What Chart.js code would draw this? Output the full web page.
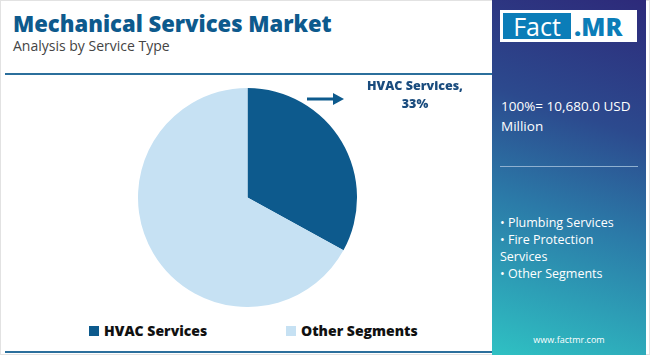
<!DOCTYPE html>
<html><head><meta charset="utf-8">
<script src="https://cdn.jsdelivr.net/npm/chart.js@4/dist/chart.umd.min.js"></script>
<style>
html,body{margin:0;padding:0;}
body{width:650px;height:355px;position:relative;overflow:hidden;background:#fff;font-family:"Open Sans",sans-serif;}
#frame{position:absolute;left:0;top:0;width:648px;height:353px;border:1px solid #e2e2e2;}
#title{position:absolute;left:13px;top:8px;font-size:22px;font-weight:800;color:#0d5a8d;white-space:nowrap;}
#sub{position:absolute;left:13px;top:36px;font-size:14px;color:#444;white-space:nowrap;}
#topline{position:absolute;left:5px;top:73px;width:487px;height:2px;background:#2b6f9c;}
#botline{position:absolute;left:5px;top:351px;width:487px;height:2px;background:#2b6f9c;}
#chartbox{position:absolute;left:138px;top:88px;width:219px;height:219px;}
#panel{position:absolute;left:492px;top:0;width:154px;height:355px;background:linear-gradient(18deg,#2fc1c3 0%,#2b7aa8 40%,#2c4a8e 66%,#2d2a7a 100%);color:#fff;}
#logo{position:absolute;left:8px;top:10px;width:137px;height:32px;background:#fff;}
#logo .f{position:absolute;left:3px;top:3px;width:68px;height:26px;background:#0b7db8;color:#fff;font-size:25px;line-height:26px;text-align:center;font-family:"Open Sans",sans-serif;}
#logo .m{position:absolute;left:74px;top:0;height:32px;line-height:32px;color:#0b7db8;font-size:25px;font-weight:800;}
#total{position:absolute;left:9px;top:96px;width:140px;font-size:13.5px;line-height:20px;}
#sep{position:absolute;left:8px;top:166px;width:138px;height:1px;background:#8fb0d0;}
#bul{position:absolute;left:8px;top:214px;width:122px;font-size:12.5px;line-height:17px;}
#web{position:absolute;left:0;top:333px;width:154px;text-align:center;font-size:9px;}
#legend{position:absolute;top:321px;left:0;font-size:14px;font-weight:800;color:#111;}
.li{position:absolute;white-space:nowrap;}
.sw{display:inline-block;width:10px;height:10px;margin-right:5px;vertical-align:0px;}
#lab{position:absolute;left:365px;top:77px;width:100px;text-align:center;font-size:12.5px;font-weight:800;color:#1a4c7e;line-height:18px;}
#arrow{position:absolute;left:306px;top:91px;}
</style></head><body>
<div id="frame"></div>
<div id="title">Mechanical Services Market</div>
<div id="sub">Analysis by Service Type</div>
<div id="topline"></div>
<div id="botline"></div>
<div id="chartbox"><canvas id="c" width="219" height="219"></canvas></div>
<svg id="arrow" width="40" height="16"><line x1="1" y1="8" x2="28" y2="8" stroke="#0d5a8d" stroke-width="3"/><polygon points="27,2 38,8 27,14" fill="#0d5a8d"/></svg>
<div id="lab"></div>
<div id="legend"></div>
<div id="panel">
  <div id="logo"><div class="f">Fact</div><div class="m">.MR</div></div>
  <div id="total"></div>
  <div id="sep"></div>
  <div id="bul"></div>
  <div id="web">www.factmr.com</div>
</div>
<script>
const categories = ["HVAC Services", "Other Segments"];
const shares = [33, 67];
const colors = ["#0d5a8d", "#c6e1f3"];
const totalText = "100%= 10,680.0 USD Million";
const otherItems = ["Plumbing Services", "Fire Protection Services", "Other Segments"];

document.getElementById('total').textContent = totalText;
document.getElementById('bul').innerHTML = otherItems.map(s => '• ' + s).join('<br>');
document.getElementById('lab').innerHTML = categories[0] + ',<br>' + shares[0] + '%';
const lx = [89, 286];
document.getElementById('legend').innerHTML = categories.map((c, i) =>
  '<span class="li" style="left:' + lx[i] + 'px"><span class="sw" style="background:' + colors[i] + '"></span>' + c + '</span>').join('');

new Chart(document.getElementById('c'), {
  type: 'pie',
  data: { labels: categories, datasets: [{ data: shares, backgroundColor: colors, borderWidth: 0 }] },
  options: {
    responsive: false, animation: false,
    layout: { padding: 0 },
    plugins: { legend: { display: false }, tooltip: { enabled: false } }
  }
});
</script>
</body></html>
